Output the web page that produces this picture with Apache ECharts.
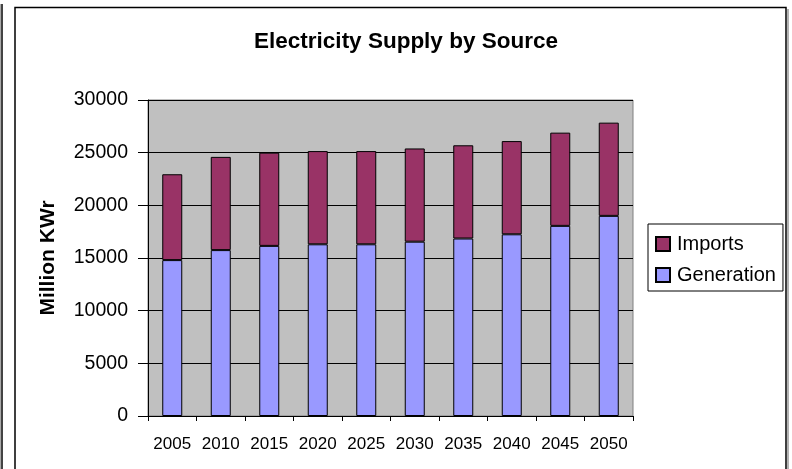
<!DOCTYPE html>
<html>
<head>
<meta charset="utf-8">
<script src="https://cdn.jsdelivr.net/npm/echarts@6/dist/echarts.min.js"></script>
<style>
html,body{margin:0;padding:0;background:#fff;}
#chart{width:792px;height:469px;}
</style>
</head>
<body>
<div id="chart"></div>
<script>
const categories = ['2005','2010','2015','2020','2025','2030','2035','2040','2045','2050'];
const generation = [14800, 15750, 16150, 16300, 16300, 16550, 16850, 17250, 18050, 19000];
const imports = [8150, 8850, 8850, 8850, 8850, 8850, 8850, 8850, 8850, 8850];
const yTicks = [0, 5000, 10000, 15000, 20000, 25000, 30000];

const FONT = "'Liberation Sans', Arial, sans-serif";
const chart = echarts.init(document.getElementById('chart'), null, {renderer: 'canvas'});
chart.setOption({
  animation: false,
  backgroundColor: '#fff',
  textStyle: {fontFamily: FONT, color: '#000'},
  title: {
    text: 'Electricity Supply by Source',
    left: 401, top: 25, textAlign: 'center',
    textStyle: {fontFamily: FONT, fontSize: 22.5, fontWeight: 'bold', color: '#000'}
  },
  legend: {
    orient: 'vertical',
    left: 648, top: 224,
    data: ['Imports', 'Generation'],
    backgroundColor: '#fff',
    borderColor: '#000', borderWidth: 1,
    padding: [10, 7, 6, 7],
    itemWidth: 14, itemHeight: 14, itemGap: 11,
    icon: 'rect',
    textStyle: {fontFamily: FONT, fontSize: 20, color: '#000', lineHeight: 20, padding: [0,0,0,2]}
  },
  grid: {
    left: 148, top: 100, right: 159, bottom: 53,
    show: true, backgroundColor: '#C0C0C0', borderColor: '#808080', borderWidth: 1
  },
  xAxis: {
    type: 'category',
    data: categories,
    axisLine: {lineStyle: {color: '#000', width: 1}},
    axisTick: {show: true, length: 5, lineStyle: {color: '#000'}},
    axisLabel: {fontFamily: FONT, fontSize: 17, color: '#000', margin: 20, interval: 0, hideOverlap: false},
    splitLine: {show: false}
  },
  yAxis: {
    type: 'value',
    min: yTicks[0], max: yTicks[yTicks.length - 1], interval: yTicks[1] - yTicks[0],
    name: 'Million KWr',
    nameLocation: 'middle',
    nameGap: 89,
    nameTextStyle: {fontFamily: FONT, fontSize: 21, fontWeight: 'bold', color: '#000'},
    axisLine: {show: true, lineStyle: {color: '#000', width: 1}},
    axisTick: {show: true, length: 10, lineStyle: {color: '#000'}},
    axisLabel: {fontFamily: FONT, fontSize: 19.5, color: '#000', margin: 20, formatter: function (v) { return String(v); }},
    splitLine: {show: true, lineStyle: {color: '#000', width: 1}}
  },
  series: [
    {
      name: 'Generation', type: 'bar', stack: 'total', data: generation,
      barWidth: 20,
      itemStyle: {color: '#9999FF', borderColor: '#000', borderWidth: 1}
    },
    {
      name: 'Imports', type: 'bar', stack: 'total', data: imports,
      barWidth: 20,
      itemStyle: {color: '#993366', borderColor: '#000', borderWidth: 1}
    }
  ],
  graphic: [
    {type: 'rect', shape: {x: 15, y: 7.5, width: 771, height: 480}, style: {fill: 'none', stroke: '#000', lineWidth: 1.5}, z: 100},
    {type: 'line', shape: {x1: 788, y1: 9, x2: 788, y2: 469}, style: {stroke: '#999', lineWidth: 1.5}, z: 100},
    {type: 'line', shape: {x1: 2, y1: 4, x2: 2, y2: 469}, style: {stroke: '#444', lineWidth: 2}, z: 100},
    {type: 'line', shape: {x1: 0.5, y1: 4, x2: 0.5, y2: 469}, style: {stroke: '#aaa', lineWidth: 1}, z: 100}
  ]
});
</script>
</body>
</html>
